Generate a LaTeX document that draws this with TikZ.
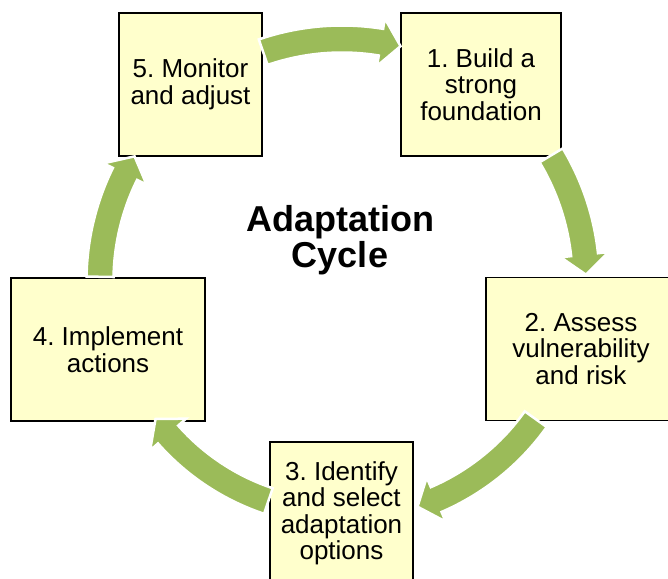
\documentclass[tikz,border=0pt]{standalone}
\usepackage{fontspec}
\setmainfont{Liberation Sans}
\frenchspacing

\definecolor{cyclegreen}{HTML}{9BBB59}
\definecolor{boxfill}{HTML}{FFFFCC}

\tikzset{
    stage/.style={draw=black, line width=1.5pt, fill=boxfill, align=center,
        inner sep=0pt, minimum height=143pt, font=\fontsize{26}{26.5}\selectfont},
    arrowshape/.style={fill=cyclegreen, draw=white, line width=2.5pt}
}

% curved block arrow round (cc): radius, tail angle, tip angle
\newcommand{\cyclearrow}[3]{%
    \pgfmathsetmacro{\ro}{#1+13.5}%
    \pgfmathsetmacro{\ri}{#1-13.5}%
    \pgfmathsetmacro{\ho}{#1+24}%
    \pgfmathsetmacro{\hi}{#1-24}%
    \pgfmathsetmacro{\hb}{#3+20/#1*180/pi}%
    \path[arrowshape, shift={(cc)}] (#2:\ro) arc[start angle=#2, end angle=\hb, radius=\ro]
        -- (\hb:\ho) -- (#3:#1) -- (\hb:\hi) -- (\hb:\ri)
        arc[start angle=\hb, end angle=#2, radius=\ri] -- cycle;
}

\begin{document}
\begin{tikzpicture}[x=1pt, y=1pt]

        \useasboundingbox (0,0) rectangle (668,-578);

        % Draw the five stages
        \node[stage, minimum width=143pt] (b5) at (190.5,-84.5) {5. Monitor\\and adjust};
        \node[stage, minimum width=160pt] (b1) at (481,-84.5) {1. Build a\\strong\\foundation};
        \node[stage, minimum width=190pt] (b2) at (581,-349) {2. Assess\\vulnerability\\and risk};
        \node[stage, minimum width=143pt] (b3) at (341.5,-513.5) {3. Identify\\and select\\adaptation\\options};
        \node[stage, minimum width=194pt] (b4) at (108,-349.5) {4. Implement\\actions};

        % Title in the middle
        \node[font=\fontsize{36}{36}\selectfont\bfseries, align=center] (title) at (340,-240) {Adaptation\\Cycle};

        % Draw the arrows round the cycle
        \coordinate (cc) at (342,-281);
        \cyclearrow{242}{109}{76}          % b5 to b1
        \cyclearrow{244}{31}{1.5}          % b1 to b2
        \cyclearrow{238}{-35.5}{-71.5}     % b2 to b3
        \cyclearrow{232}{-108.5}{-143.5}   % b3 to b4
        \cyclearrow{242}{179}{149}         % b4 to b5
    \end{tikzpicture}
\end{document}
